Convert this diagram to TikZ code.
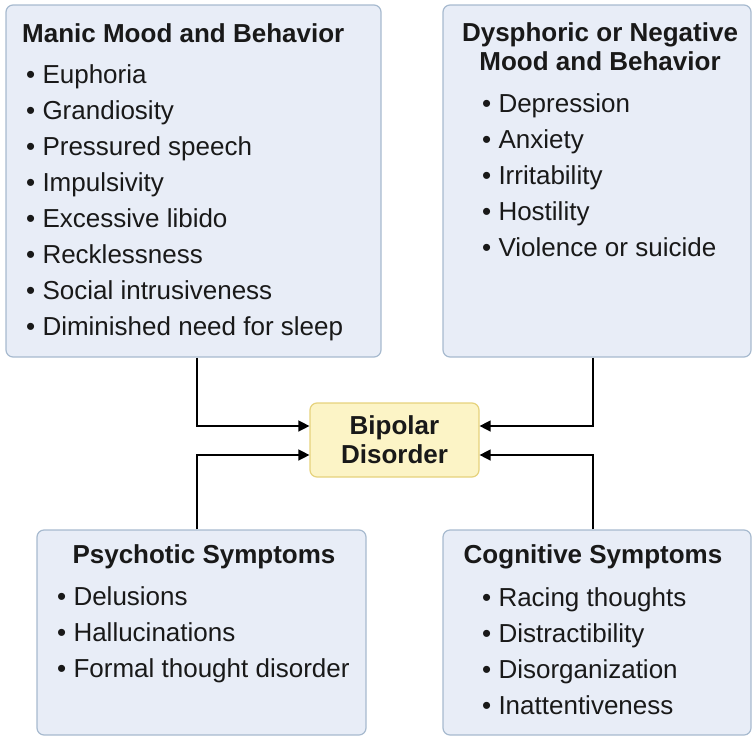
\documentclass[tikz,border=0pt]{standalone}
\usepackage{fontspec}
\setmainfont{Liberation Sans}
\usetikzlibrary{arrows.meta}
\definecolor{boxfill}{HTML}{E8EDF7}
\definecolor{boxline}{HTML}{A7BACF}
\definecolor{hubfill}{HTML}{FCF4C6}
\definecolor{hubline}{HTML}{E6D27C}

\begin{document}
\begin{tikzpicture}[x=1pt, y=-1pt,
  every node/.style={font=\fontsize{26}{29}\selectfont, text=black!90, inner sep=0pt},
  group/.style={draw=boxline, fill=boxfill, line width=1.2pt, rounded corners=7pt},
  hub/.style={draw=hubline, fill=hubfill, line width=1.2pt, rounded corners=7pt,
    align=center, font=\fontsize{26}{29}\selectfont\bfseries},
  head/.style={font=\fontsize{26}{29}\selectfont\bfseries, anchor=base},
  item/.style={anchor=base west},
  link/.style={line width=1.4pt, -{Triangle[length=11pt,width=11pt]}}]
  \useasboundingbox (0,0) rectangle (754,736);

  % boxes
  \node[group, minimum width=375pt, minimum height=352pt] (manic) at (193.5,181) {};
  \node[group, minimum width=308pt, minimum height=352pt] (dysph) at (597,181) {};
  \node[group, minimum width=329pt, minimum height=205pt] (psych) at (201.5,632.5) {};
  \node[group, minimum width=308pt, minimum height=205pt] (cogn) at (597,632.5) {};
  \node[hub, minimum width=169pt, minimum height=74pt] (bipolar) at (394.5,440) {Bipolar\\Disorder};

  % titles
  \node[head, anchor=base west] (manicT) at (22,42) {Manic Mood and Behavior};
  \node[head] (dysphT1) at (600,41) {Dysphoric or Negative};
  \node[head] (dysphT2) at (600,70) {Mood and Behavior};
  \node[head] (psychT) at (204,563) {Psychotic Symptoms};
  \node[head] (cognT) at (593,563) {Cognitive Symptoms};

  % lists
  \foreach \txt [count=\i] in {Euphoria, Grandiosity, Pressured speech, Impulsivity,
      Excessive libido, Recklessness, Social intrusiveness, Diminished need for sleep}
    \node[item] (manic\i) at (26,{47+36*\i}) {\textbullet\ \txt};
  \foreach \txt [count=\i] in {Depression, Anxiety, Irritability, Hostility, Violence or suicide}
    \node[item] (dysph\i) at (482,{76+36*\i}) {\textbullet\ \txt};
  \foreach \txt [count=\i] in {Delusions, Hallucinations, Formal thought disorder}
    \node[item] (psych\i) at (57,{569+36*\i}) {\textbullet\ \txt};
  \foreach \txt [count=\i] in {Racing thoughts, Distractibility, Disorganization, Inattentiveness}
    \node[item] (cogn\i) at (482,{570+36*\i}) {\textbullet\ \txt};

  % connectors
  \coordinate (mt) at (197,426);
  \coordinate (pt) at (197,455);
  \coordinate (dt) at (593,426);
  \coordinate (ct) at (593,455);
  \draw[link] (mt |- manic.south) -- (mt) -- (mt -| bipolar.west);
  \draw[link] (pt |- psych.north) -- (pt) -- (pt -| bipolar.west);
  \draw[link] (dt |- dysph.south) -- (dt) -- (dt -| bipolar.east);
  \draw[link] (ct |- cogn.north) -- (ct) -- (ct -| bipolar.east);
\end{tikzpicture}
\end{document}
